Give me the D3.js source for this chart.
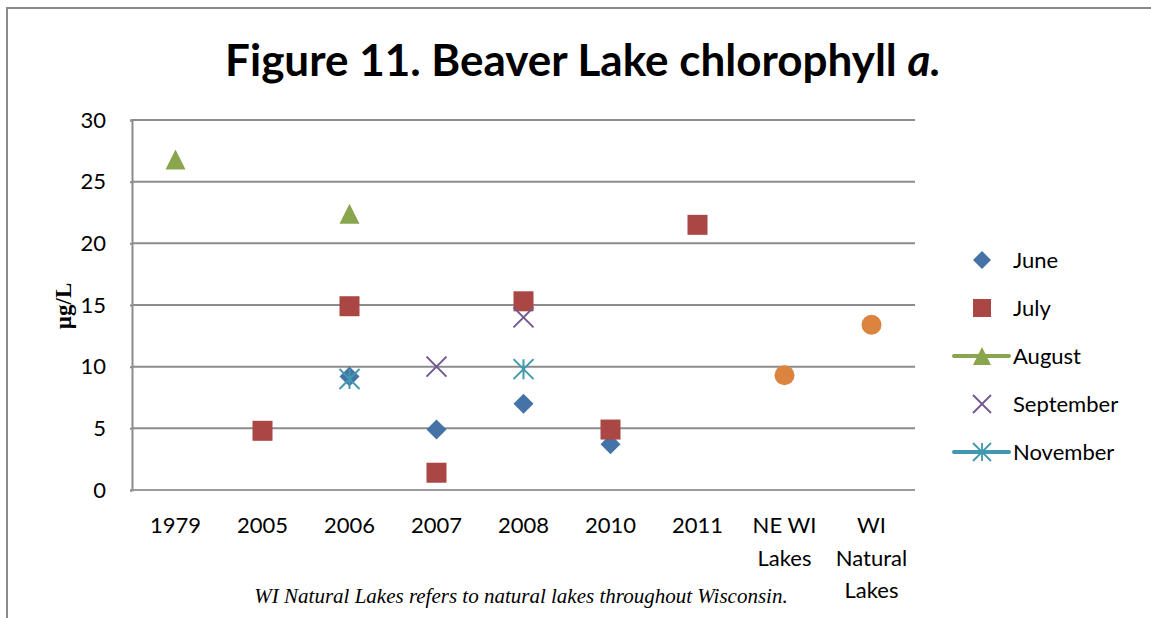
<!DOCTYPE html>
<html>
<head>
<meta charset="utf-8">
<script src="https://cdn.jsdelivr.net/npm/d3@7"></script>
<style>
  body { margin: 0; background: #fff; }
  svg { display: block; }
</style>
</head>
<body>
<svg id="chart" width="1151" height="618"></svg>
<script>
// categories along the x axis (label lines)
const categories = ["1979", "2005", "2006", "2007", "2008", "2010", "2011", "NE WI Lakes", "WI Natural Lakes"];
const categoryLines = [["1979"], ["2005"], ["2006"], ["2007"], ["2008"], ["2010"], ["2011"], ["NE WI", "Lakes"], ["WI", "Natural", "Lakes"]];
const yTicks = [0, 5, 10, 15, 20, 25, 30];

// series values
const june = [["2006", 9.2], ["2007", 4.9], ["2008", 7.0], ["2010", 3.7]];
const july = [["2005", 4.8], ["2006", 14.9], ["2007", 1.4], ["2008", 15.3], ["2010", 4.9], ["2011", 21.5]];
const august = [["1979", 26.8], ["2006", 22.4]];
const september = [["2007", 10.0], ["2008", 14.0]];
const november = [["2006", 9.0], ["2008", 9.8]];
const wiLakes = [["NE WI Lakes", 9.3], ["WI Natural Lakes", 13.4]];

const series = [
  { name: "June", data: june, color: "#4572a7", shape: "diamond", legend: true },
  { name: "July", data: july, color: "#aa4643", shape: "square", legend: true },
  { name: "August", data: august, color: "#89a54e", shape: "triangle", legend: true, line: true },
  { name: "September", data: september, color: "#71588f", shape: "x", legend: true },
  { name: "November", data: november, color: "#4198af", shape: "star", legend: true, line: true },
  { name: "WI", data: wiLakes, color: "#db843d", shape: "circle", legend: false }
];

const svg = d3.select("#chart");
const margin = { left: 132, right: 236, top: 120, bottom: 128 };
const W = 1151, H = 618;

// outer chart border (only top and left show in the picture)
svg.append("path")
  .attr("d", `M7,${H} L7,8 L${W},8`)
  .attr("fill", "none")
  .attr("stroke", "#8a8a8a")
  .attr("stroke-width", 2);

const x = d3.scaleBand().domain(categories).range([margin.left, W - margin.right]);
const y = d3.scaleLinear().domain([0, 30]).range([H - margin.bottom, margin.top]);

// title
const title = svg.append("text")
  .attr("x", 583).attr("y", 76)
  .attr("text-anchor", "middle")
  .style("font-family", "Lato, 'Open Sans', sans-serif")
  .style("font-weight", "bold")
  .style("font-size", "44px")
  .attr("fill", "#000");
title.append("tspan").text("Figure 11. Beaver Lake chlorophyll ");
title.append("tspan").style("font-style", "italic").text("a.");

// gridlines
svg.append("g")
  .selectAll("line")
  .data(yTicks.filter(d => d > 0))
  .join("line")
  .attr("x1", margin.left).attr("x2", W - margin.right)
  .attr("y1", d => y(d)).attr("y2", d => y(d))
  .attr("stroke", "#8c8c8c")
  .attr("stroke-width", 2);

// y axis
const yAxis = svg.append("g")
  .attr("transform", `translate(${margin.left},0)`)
  .call(d3.axisLeft(y).tickValues(yTicks).tickSize(2).tickPadding(24));
yAxis.select(".domain").attr("stroke", "#8c8c8c").attr("stroke-width", 2);
yAxis.selectAll(".tick line").attr("stroke", "#8c8c8c").attr("stroke-width", 2);
yAxis.selectAll("text")
  .style("font-family", "Lato, 'Open Sans', sans-serif")
  .style("font-size", "22px")
  .attr("fill", "#000");

// x axis line
svg.append("line")
  .attr("x1", margin.left).attr("x2", W - margin.right)
  .attr("y1", y(0)).attr("y2", y(0))
  .attr("stroke", "#9a9a9a")
  .attr("stroke-width", 2);

// x labels
const xl = svg.append("g")
  .selectAll("text")
  .data(categories)
  .join("text")
  .attr("x", d => x(d) + x.bandwidth() / 2)
  .attr("y", 533)
  .attr("text-anchor", "middle")
  .style("font-family", "Lato, 'Open Sans', sans-serif")
  .style("font-size", "22px")
  .attr("fill", "#000");
xl.each(function(d, i) {
  d3.select(this).selectAll("tspan")
    .data(categoryLines[i])
    .join("tspan")
    .attr("x", x(d) + x.bandwidth() / 2)
    .attr("dy", (t, j) => j === 0 ? 0 : 32.5)
    .text(t => t);
});

// y title
svg.append("text")
  .attr("transform", "translate(71,306) rotate(-90)")
  .attr("text-anchor", "middle")
  .style("font-family", "'Liberation Serif', 'Times New Roman', serif")
  .style("font-weight", "bold")
  .style("font-size", "23px")
  .text("µg/L");

// caption
svg.append("text")
  .attr("x", 521).attr("y", 603)
  .attr("text-anchor", "middle")
  .style("font-family", "'Liberation Serif', 'Times New Roman', serif")
  .style("font-style", "italic")
  .style("font-size", "21px")
  .text("WI Natural Lakes refers to natural lakes throughout Wisconsin.");

// marker drawing
function drawMarker(g, shape, color) {
  const s = 10;
  if (shape === "diamond") {
    g.append("path").attr("d", `M0,${-s} L${s},0 L0,${s} L${-s},0 Z`).attr("fill", color);
  } else if (shape === "square") {
    g.append("rect").attr("x", -s).attr("y", -s).attr("width", 2 * s).attr("height", 2 * s).attr("fill", color);
  } else if (shape === "triangle") {
    g.append("path").attr("d", `M0,${-s} L${s},${s} L${-s},${s} Z`).attr("fill", color);
  } else if (shape === "circle") {
    g.append("circle").attr("r", s).attr("fill", color);
  } else if (shape === "x") {
    g.append("path").attr("d", `M${-s},${-s} L${s},${s} M${s},${-s} L${-s},${s}`)
      .attr("stroke", color).attr("stroke-width", 2).attr("fill", "none");
  } else if (shape === "star") {
    g.append("path").attr("d", `M${-s},${-s} L${s},${s} M${s},${-s} L${-s},${s} M0,${-s} L0,${s}`)
      .attr("stroke", color).attr("stroke-width", 2).attr("fill", "none");
  }
}

// points
series.forEach(sr => {
  svg.append("g")
    .selectAll("g")
    .data(sr.data)
    .join("g")
    .attr("transform", d => `translate(${x(d[0]) + x.bandwidth() / 2},${y(d[1])})`)
    .each(function() { drawMarker(d3.select(this), sr.shape, sr.color); });
});

// legend
const legend = svg.append("g");
series.filter(s => s.legend).forEach((sr, i) => {
  const ly = 260 + i * 48;
  const g = legend.append("g").attr("transform", `translate(982,${ly})`);
  if (sr.line) {
    g.append("line").attr("x1", -28).attr("x2", 27).attr("y1", 0).attr("y2", 0)
      .attr("stroke", sr.color).attr("stroke-width", 4).attr("stroke-linecap", "round");
  }
  const m = g.append("g").attr("transform", "scale(0.9)");
  drawMarker(m, sr.shape, sr.color);
  g.append("text")
    .attr("x", 31).attr("y", 8)
    .style("font-family", "Lato, 'Open Sans', sans-serif")
    .style("font-size", "22px")
    .attr("fill", "#000")
    .text(sr.name);
});
</script>
</body>
</html>
